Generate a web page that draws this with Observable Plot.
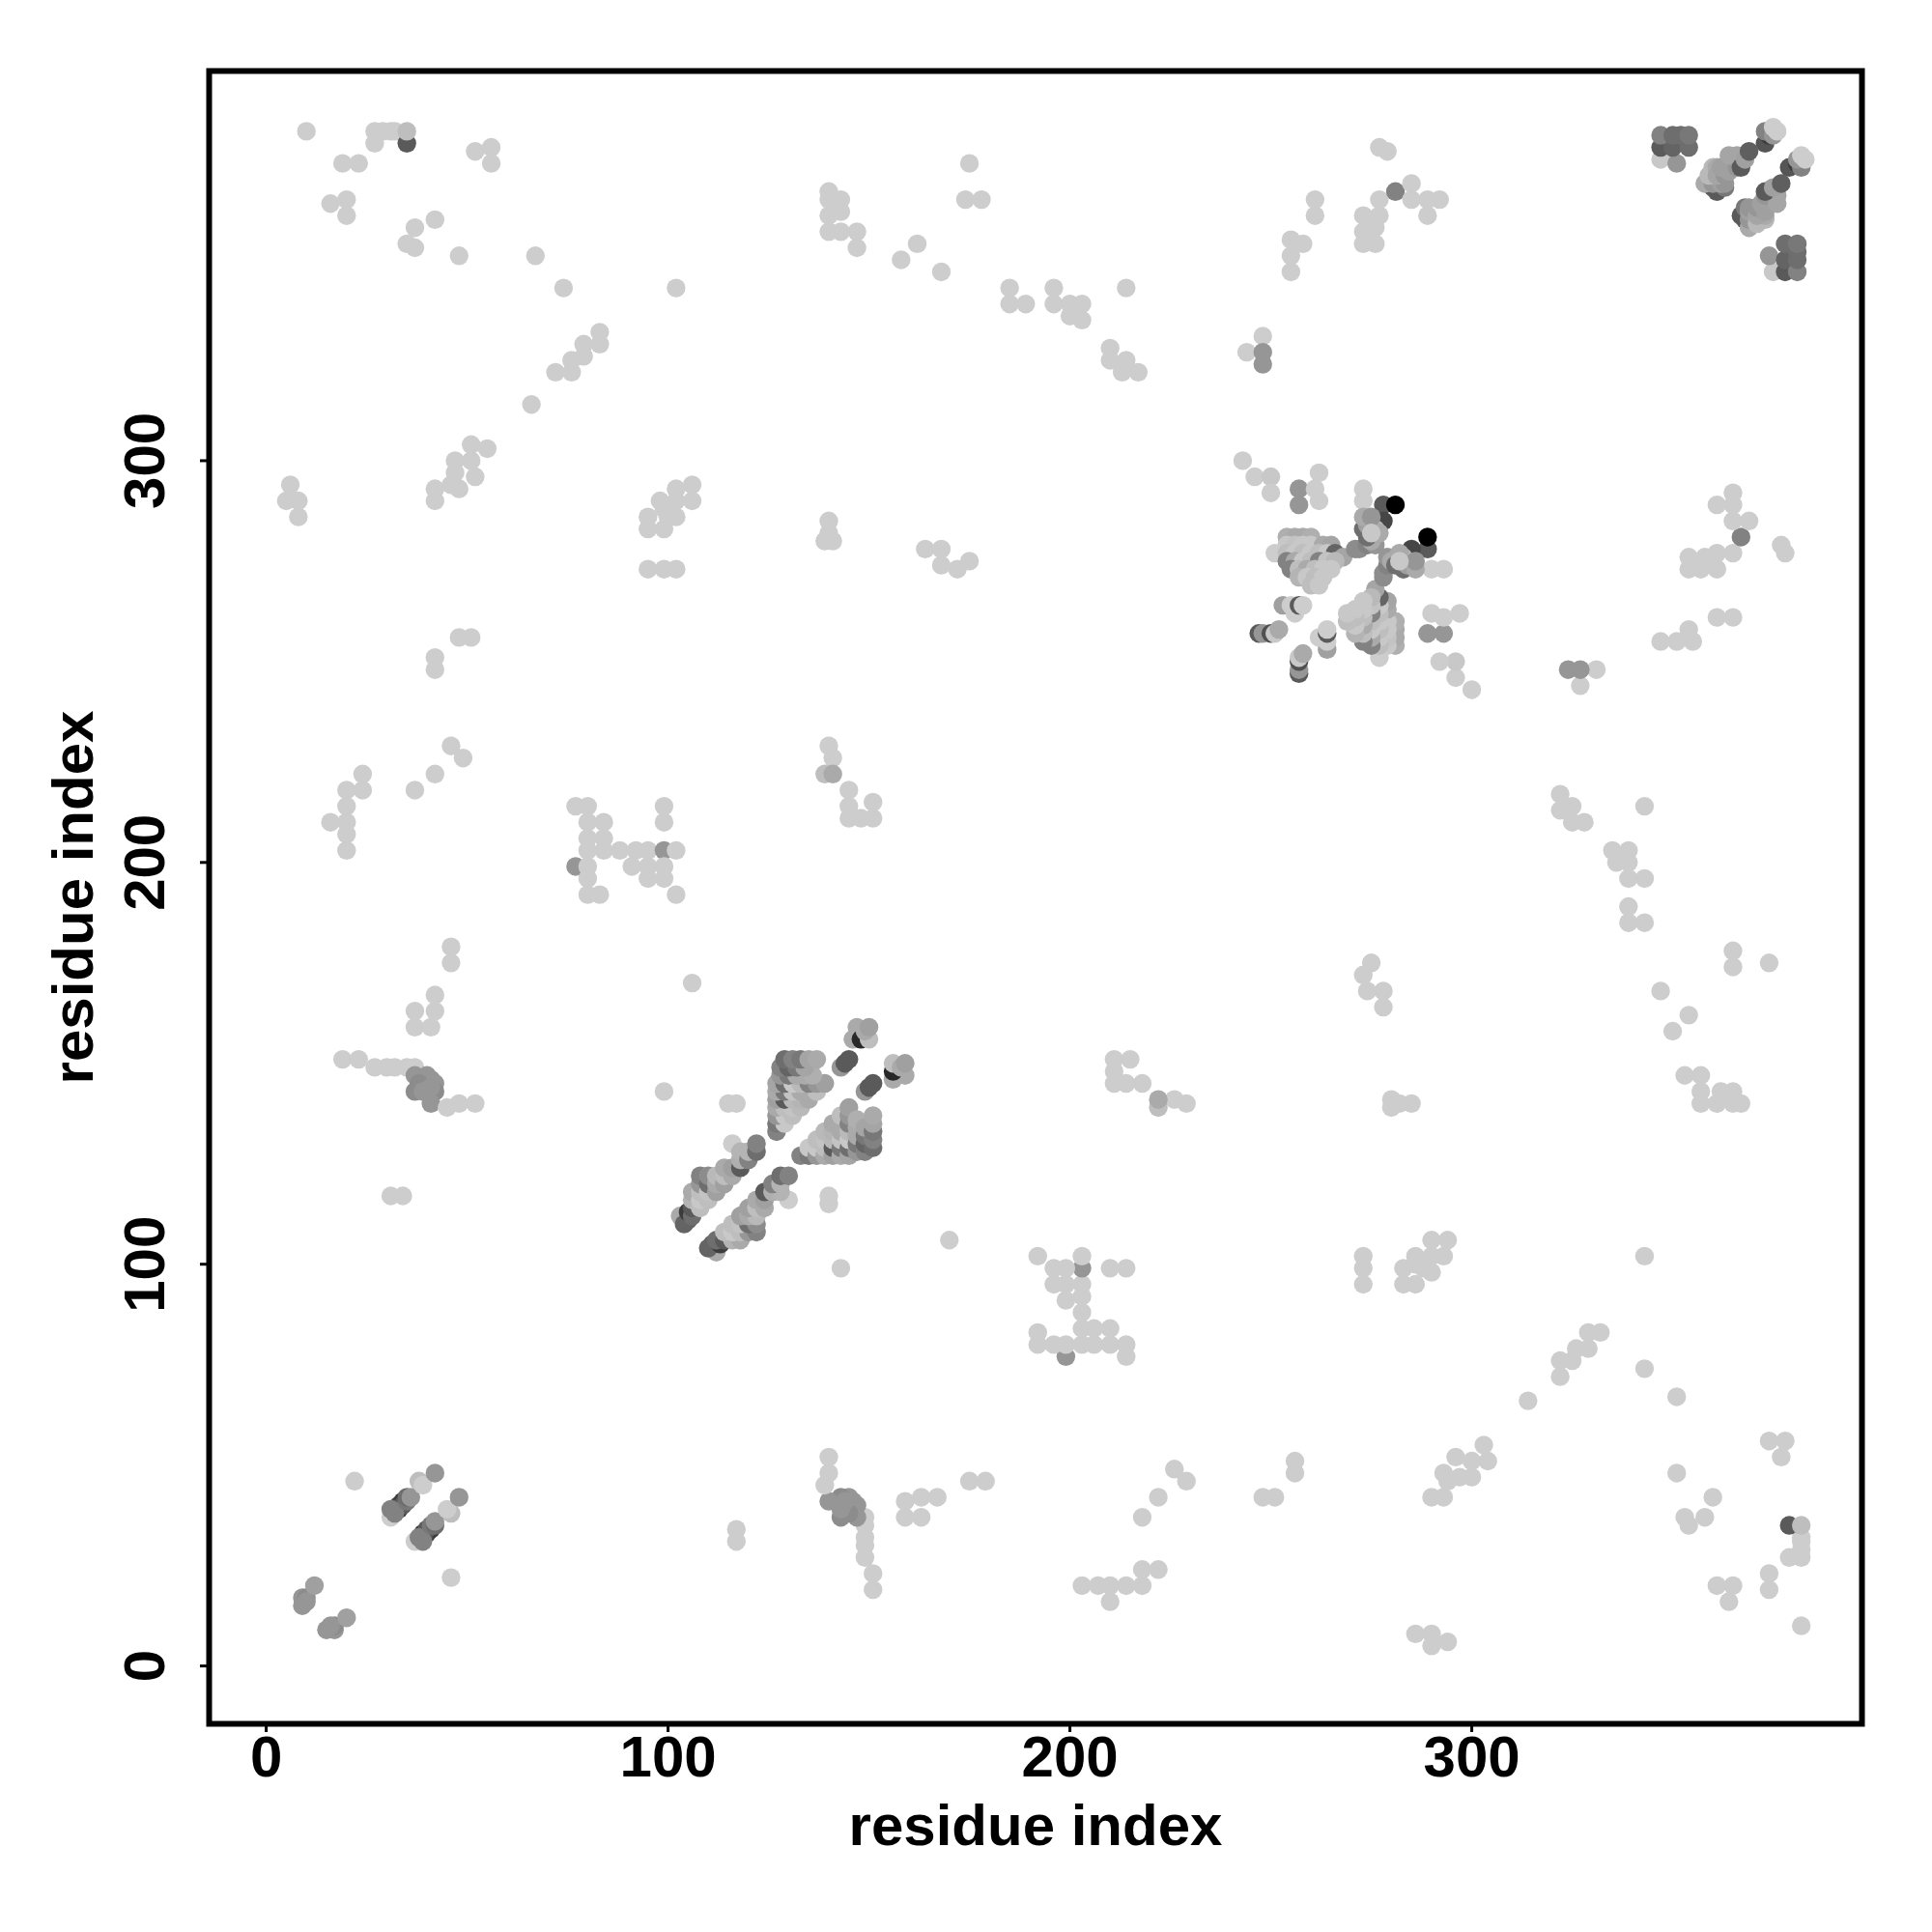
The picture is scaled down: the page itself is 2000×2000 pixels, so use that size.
<!DOCTYPE html>
<html>
<head>
<meta charset="utf-8">
<style>html,body{margin:0;padding:0;background:#fff}svg{display:block}</style>
<script src="https://cdn.jsdelivr.net/npm/d3@7"></script>
<script src="https://cdn.jsdelivr.net/npm/@observablehq/plot@0.6"></script>
</head>
<body>
<div id="chart"></div>
<script>
// Contacts read from the upper triangle as [residue i, residue j, grey level]; the map is symmetric.
const nTermStrands = [[9,15,150],[9,17,150],[10,17,140],[10,16,150],[12,20,160],[31,37,205],[33,39,60],[33,40,70],[34,41,60],[34,40,90],[32,39,90],[31,39,130],[32,38,130],[35,41,120],[35,42,110],[36,42,150],[38,46,190],[39,45,205],[42,48,150],[22,46,205]];
const topLeftContacts = [[10,382,205],[27,382,205],[29,382,205],[31,382,205],[32,382,205],[27,379,205],[35,379,90],[35,382,190],[19,374,205],[23,374,205],[16,364,205],[20,365,205],[20,361,205],[52,377,205],[56,378,205],[56,374,205],[35,354,205],[37,353,205],[37,358,205],[42,360,205],[48,351,205],[67,351,205],[74,343,205],[66,314,205],[72,322,205],[76,322,205],[76,325,205],[79,329,205],[79,326,205],[83,329,205],[83,332,205],[102,343,205]];
const middleTopContacts = [[140,365,205],[143,365,205],[140,367,205],[140,361,205],[143,362,205],[140,357,205],[143,357,205],[147,357,205],[147,353,205],[158,350,205],[162,354,205],[168,347,205],[175,374,205],[174,365,205],[178,365,205],[185,343,205],[185,339,205],[189,339,205],[196,343,205],[196,339,205],[200,339,205],[203,339,205],[200,336,205],[203,335,205],[214,343,205],[210,328,205],[210,325,205],[214,325,205],[213,322,205],[217,322,205]];
const rightTopContacts = [[244,327,205],[248,331,205],[248,327,150],[248,324,150],[261,365,205],[261,361,205],[255,355,205],[258,354,205],[255,351,205],[255,347,205],[273,361,205],[277,361,205],[277,365,205],[273,357,205],[276,358,205],[275,360,205],[273,354,205],[276,354,205],[277,378,205],[279,377,205],[281,367,130],[285,369,205],[285,365,205],[289,365,205],[289,361,205],[292,365,205]];
const cornerBlock = [[347,375,200],[351,374,150],[347,378,90],[350,378,100],[354,378,110],[347,381,130],[350,381,110],[352,381,110],[354,381,120]];
const cornerStrand = [[361,367,90],[360,368,90],[363,368,120],[358,369,170],[360,369,150],[362,369,160],[363,369,150],[359,371,185],[360,373,185],[361,373,170],[361,371,165],[363,371,150],[362,373,160],[364,372,160],[364,374,160],[366,373,150],[364,376,165],[366,376,165],[367,373,90],[368,375,160],[373,379,85],[374,381,60],[373,382,130],[369,377,95],[375,381,150],[376,382,205],[375,383,205]];
const leftMidContacts = [[6,294,205],[5,290,205],[8,290,205],[8,286,205],[42,290,205],[42,293,205],[46,294,205],[48,293,205],[47,297,205],[47,300,205],[51,300,205],[51,304,205],[55,303,205],[52,296,205],[42,251,205],[42,248,205],[48,256,205],[51,256,205],[20,218,205],[24,222,205],[24,218,205],[16,210,205],[20,214,205],[20,210,205],[20,207,205],[20,203,205],[37,218,205],[42,222,205],[46,229,205],[49,226,205],[46,179,205],[46,175,205],[42,167,205],[37,163,205],[42,163,205],[37,159,205],[41,159,205],[19,151,205],[23,151,205],[27,149,205],[30,149,205],[32,149,205],[35,149,205],[37,149,205],[37,147,150],[40,147,150],[39,146,150],[41,146,150],[38,145,140],[42,145,150],[42,143,140],[37,143,140],[39,143,150],[41,144,150],[41,140,150],[45,139,205],[48,140,205],[52,140,205],[31,117,205],[34,117,205]];
const blockAt200 = [[77,214,205],[80,214,205],[80,210,205],[84,210,205],[80,206,205],[84,206,205],[80,203,205],[84,203,205],[88,203,205],[92,203,205],[95,203,205],[99,203,150],[102,203,205],[77,199,150],[80,199,205],[80,196,205],[80,192,205],[83,192,205],[91,199,205],[95,199,205],[99,199,205],[95,196,205],[99,196,205],[99,210,205],[99,214,205],[102,192,205],[106,170,205],[99,143,205]];
const blockAt290 = [[95,273,205],[99,273,205],[102,273,205],[95,283,205],[95,286,205],[100,286,205],[98,290,205],[99,288,205],[102,293,205],[106,294,205],[106,290,205],[102,290,205],[102,286,205],[99,283,205],[115,140,205],[117,140,205]];
const col140Contacts = [[140,285,205],[139,280,205],[141,280,205],[140,282,205],[140,229,205],[141,226,205],[139,222,190],[141,222,170],[145,218,205],[145,214,205],[145,211,205],[148,211,205],[151,211,205],[151,215,205],[164,278,205],[168,278,205],[168,274,205],[172,273,205],[175,275,205]];
const centralStrand = [[103,112,170],[104,110,100],[105,111,100],[105,113,60],[106,112,110],[106,114,90],[106,116,180],[106,118,170],[108,114,190],[108,116,200],[108,118,190],[108,120,150],[108,122,130],[110,116,190],[110,118,195],[110,120,110],[110,122,140],[112,118,160],[112,120,170],[112,122,185],[114,120,160],[114,122,190],[114,124,170],[116,122,170],[116,124,160],[116,130,205],[118,124,90],[118,126,175],[118,128,180],[120,126,130],[120,128,180],[122,128,110],[122,130,130]];
const centralUpper = [[127,133,130],[127,135,120],[129,135,200],[127,137,150],[129,137,200],[131,137,190],[127,139,170],[129,139,190],[131,139,195],[133,139,185],[127,141,160],[129,141,90],[131,141,185],[133,141,180],[135,141,170],[127,143,170],[129,143,120],[131,143,195],[133,143,170],[135,143,170],[137,143,190],[127,145,165],[129,145,110],[131,145,200],[133,145,185],[135,145,130],[137,145,150],[139,145,160],[128,147,150],[130,147,120],[132,147,170],[134,147,170],[136,147,175],[128,149,130],[130,149,100],[132,149,120],[134,149,165],[129,151,110],[131,151,130],[133,151,120],[135,151,165],[137,151,170],[143,149,150],[144,150,90],[145,151,90],[147,159,170],[146,156,170],[148,156,40],[150,156,190],[149,158,170],[150,159,160]];
const clusterTop = [[243,300,205],[246,296,205],[250,296,200],[250,292,205],[257,293,150],[257,289,150],[262,297,205],[261,293,205],[262,290,205],[273,293,205],[273,290,205],[278,289,90],[281,289,0],[278,285,70],[271,278,140],[272,278,140],[274,279,130],[276,279,150],[275,280,170],[274,281,110],[273,283,110],[274,284,160],[276,283,180],[277,282,170],[273,286,170],[275,286,150],[275,282,200]];
const clusterBlob = [[254,281,175],[256,281,170],[258,281,170],[260,281,175],[254,279,200],[256,279,195],[258,279,200],[260,279,200],[263,279,170],[265,279,165],[251,277,205],[254,277,190],[256,277,200],[258,277,190],[260,277,200],[262,277,190],[264,277,200],[266,277,100],[268,276,165],[254,275,130],[256,275,170],[258,275,200],[260,275,190],[262,275,130],[264,275,195],[266,275,185],[255,273,130],[257,273,190],[259,273,170],[261,273,190],[263,273,200],[265,273,200],[257,271,180],[259,271,200],[261,271,190],[263,271,200],[260,269,190],[262,269,200]];
const clusterLower = [[253,264,160],[255,264,205],[256,262,205],[257,264,90],[258,264,205],[247,257,90],[248,257,150],[250,257,80],[251,257,200],[252,258,170]];
const axisTicks = [0, 100, 200, 300];
const axisTitle = "residue index";

const upper = [nTermStrands, topLeftContacts, middleTopContacts, rightTopContacts, cornerBlock, cornerStrand,
  leftMidContacts, blockAt200, blockAt290, col140Contacts, centralStrand, centralUpper, clusterBlob, clusterLower, clusterTop].flat();
const contacts = upper.flatMap(([i, j, g]) => [{x: i, y: j, g}, {x: j, y: i, g}]);

const fontSize = 60;
const chart = Plot.plot({
  width: 2000,
  height: 2000,
  marginLeft: 216,
  marginRight: 73,
  marginTop: 73,
  marginBottom: 216,
  style: {fontFamily: "'Liberation Sans', Arial, sans-serif", fontWeight: "bold", background: "#fff", color: "#000"},
  x: {domain: [-14.2, 397.1]},
  y: {domain: [-14.4, 397]},
  color: {type: "linear", domain: [0, 255], range: ["#000", "#fff"]},
  marks: [
    Plot.dot(contacts, {x: "x", y: "y", r: 9.7, fill: "g"}),
    Plot.frame({stroke: "#000", strokeWidth: 6}),
    Plot.axisX({ticks: axisTicks, label: null, tickSize: 9, tickPadding: 3, fontSize, strokeWidth: 3, tickFormat: d3.format("d")}),
    Plot.axisY({ticks: axisTicks, label: null, tickSize: 9, tickPadding: 38, fontSize, strokeWidth: 3, tickRotate: -90, tickFormat: d3.format("d")}),
    Plot.text([axisTitle], {frameAnchor: "bottom", dy: 125, fontSize, fontWeight: "bold"}),
    Plot.text([axisTitle], {frameAnchor: "left", textAnchor: "middle", dx: -140, rotate: -90, fontSize, fontWeight: "bold"})
  ]
});
document.getElementById("chart").append(chart);
</script>
</body>
</html>
